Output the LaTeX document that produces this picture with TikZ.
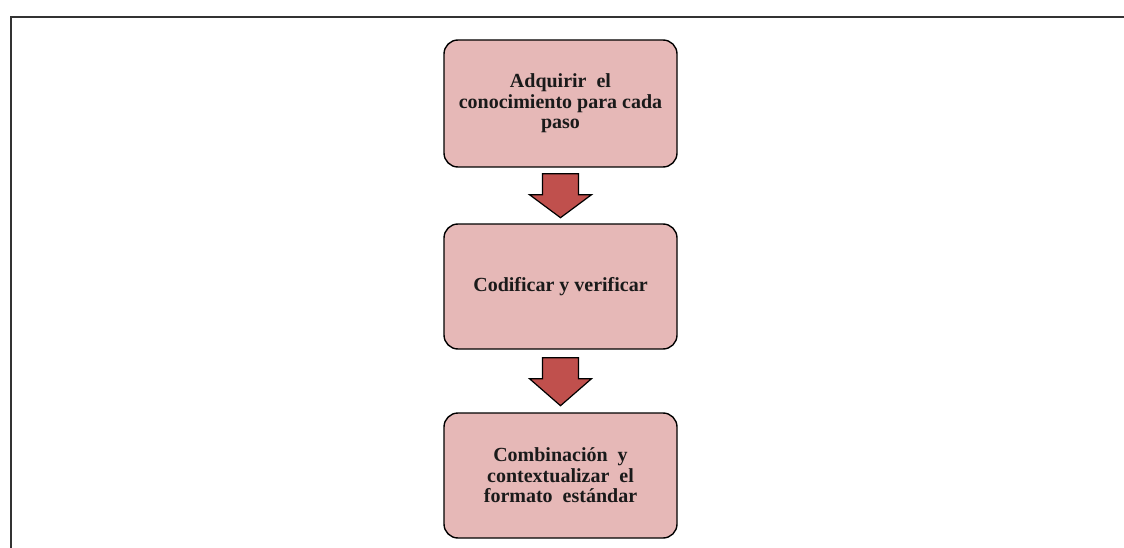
\documentclass[tikz,border=0pt]{standalone}
\usepackage{fontspec}
\setmainfont{Liberation Serif}
\usetikzlibrary{calc}
\definecolor{boxfill}{HTML}{E6B8B7}
\definecolor{arrfill}{HTML}{C0504D}
\definecolor{frame}{HTML}{333333}
\definecolor{txt}{HTML}{1A1A1A}
\tikzset{
  stepbox/.style={draw=black, line width=1.4pt, fill=boxfill, rounded corners=14pt,
    minimum width=233pt, inner sep=0pt, align=center, text=txt,
    font=\fontsize{20}{20.5}\selectfont\bfseries},
  blockarrow/.style={draw=black, line width=1.2pt, fill=arrfill, line join=miter}
}
\begin{document}
\begin{tikzpicture}[x=1pt,y=1pt]
\useasboundingbox (0,0) rectangle (1124,-548);
% frame
\draw[frame, line width=2pt] (11,-548) -- (11,-17) -- (1124,-17);
% boxes
\node[stepbox, minimum height=127pt] (b1) at (560.5,-103.5) {Adquirir\ \ el\\conocimiento\ para\ cada\\paso};
\node[stepbox, minimum height=125pt] (b2) at (560.5,-286.5) {Codificar\ y\ verificar};
\node[stepbox, minimum height=125pt] (b3) at (560.5,-475.5) {Combinación\ \ y\\contextualizar\ \ el\\formato\ \ estándar};
% arrows
\draw[blockarrow] ($(b1.south)+(-18,-6)$) -- ++(0,-21) -- ++(-13,0) -- ($(b1.south)+(0,-50)$)
  -- ($(b1.south)+(31,-27)$) -- ++(-13,0) -- ++(0,21) -- cycle;
\draw[blockarrow] ($(b2.south)+(-18,-8)$) -- ++(0,-21) -- ++(-13,0) -- ($(b2.south)+(0,-56)$)
  -- ($(b2.south)+(31,-29)$) -- ++(-13,0) -- ++(0,21) -- cycle;
\end{tikzpicture}
\end{document}
